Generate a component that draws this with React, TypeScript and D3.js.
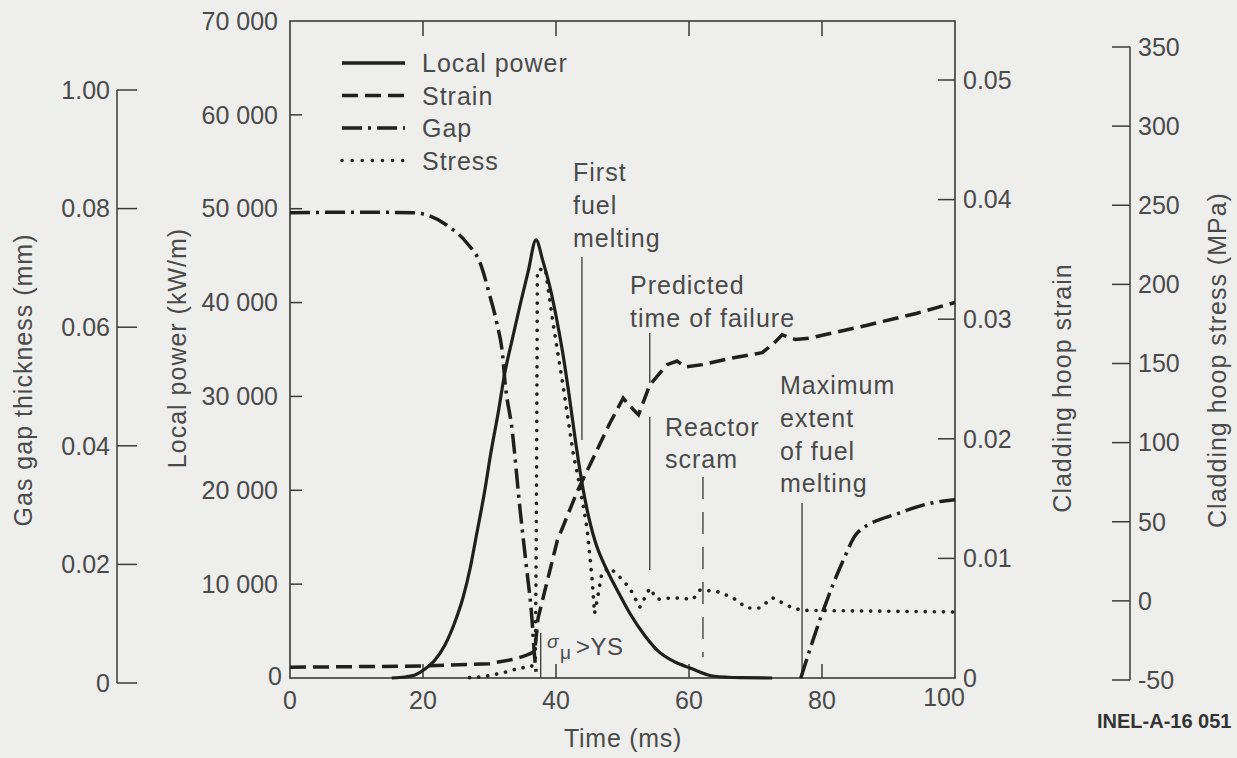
import React from "react";
import * as d3 from "d3";

// ---------- data ----------
const timeTicks = [0, 20, 40, 60, 80, 100];
const powerTicks = [0, 10000, 20000, 30000, 40000, 50000, 60000, 70000];
const powerTickLabels = ["0", "10 000", "20 000", "30 000", "40 000", "50 000", "60 000", "70 000"];
const gapTicks = [0, 0.02, 0.04, 0.06, 0.08, 0.1];
const gapTickLabels = ["0", "0.02", "0.04", "0.06", "0.08", "1.00"];
const strainTicks = [0, 0.01, 0.02, 0.03, 0.04, 0.05];
const strainTickLabels = ["0", "0.01", "0.02", "0.03", "0.04", "0.05"];
const stressTicks = [-50, 0, 50, 100, 150, 200, 250, 300, 350];
const stressTickLabels = ["-50", "0", "50", "100", "150", "200", "250", "300", "350"];

const legendLabels = ["Local power", "Strain", "Gap", "Stress"];

// [time ms, local power kW/m]
const powerData: [number, number][] = [
  [15.3, 0], [17.3, 110], [18.8, 320], [20.3, 960], [21.8, 1920], [23.3, 3520], [24.8, 5970],
  [26.0, 8520], [27.1, 11720], [28.1, 15450], [29.2, 19600], [30.2, 23970], [31.3, 28240],
  [32.3, 32500], [33.4, 36010], [34.6, 39740], [35.8, 43260], [37.0, 46670],
  [38, 44500], [39, 41900], [40, 38600], [41, 34700], [42, 30000], [43, 24900], [44, 20400],
  [45, 16900], [46, 14300], [47, 12500], [48, 11000], [49.6, 8850], [51.1, 6900], [53.4, 4480],
  [55.2, 2980], [57.9, 1700], [60.15, 1070], [63.6, 210], [67.7, 30], [72.5, 0],
];

// [time ms, strain]
const strainData: [number, number][] = [
  [0, 0.0009], [20, 0.001], [30, 0.0012], [34, 0.0016], [35.5, 0.0019], [36.8, 0.0022],
  [37.3, 0.005], [40.2, 0.0115], [43.2, 0.0156], [46.2, 0.0191], [48, 0.0212], [50.1, 0.0234],
  [51, 0.0228], [52.4, 0.022], [54.1, 0.0245], [56.7, 0.0262], [58.2, 0.0265], [59.5, 0.026],
  [62, 0.0262], [66, 0.0267], [71, 0.0272], [72.8, 0.028], [74, 0.0287], [76, 0.0283],
  [78, 0.0284], [86.8, 0.0295], [94.3, 0.0305], [100, 0.0314],
];

// [time ms, gas gap mm] (null = gap closed)
const gapData: [number, number | null][] = [
  [0, 0.0793], [10, 0.0794], [18.5, 0.0793], [23.6, 0.0772], [26.6, 0.0742], [28.6, 0.0708],
  [30.1, 0.0651], [31.1, 0.0607], [32, 0.055], [32.3, 0.0511], [33.4, 0.0427], [34.6, 0.0292],
  [35.6, 0.0191], [36.4, 0.0106], [36.7, 0.0056], [37.1, 0.001], [50, null],
  [76.8, 0.0008], [80.2, 0.0123], [83.2, 0.0207], [85.3, 0.0253], [91.7, 0.0287],
  [96.7, 0.0304], [100, 0.0309],
];

// [time ms, cladding hoop stress MPa]
const stressData: [number, number][] = [
  [27, -48.5], [29, -48], [32, -45.5], [34.5, -42.5], [36.3, -41.5], [36.9, -38], [37.0, 20],
  [37.1, 100], [37.2, 209], [38.4, 210], [39.5, 177], [41.1, 135], [42.6, 93], [43.6, 72],
  [44.7, 45], [45.4, 15], [45.8, -8], [46.3, 3], [46.9, 18], [48.1, 21], [49.6, 15], [51.1, 8],
  [52.6, -4], [54.1, 8], [55.2, 1], [57.6, 2], [60.6, 1], [61.7, 7], [64.2, 6], [66.6, 2],
  [68.7, -4.5], [70.7, -4.5], [72.5, 2], [75.6, -4.5], [77.1, -6], [100, -7],
];

// event times (ms)
const firstMeltTime = 43.9;
const failureTime = 54.1;
const scramTime = 62.1;
const maxMeltTime = 77.0;
const yieldTime = 37.7;

export default function App() {
  const W = 1237;
  const H = 758;
  const x = d3.scaleLinear().domain([0, 100]).range([290, 955]);
  const yPower = d3.scaleLinear().domain([0, 70000]).range([678, 21]);
  const yGap = d3.scaleLinear().domain([0, 0.1]).range([683, 90]);
  const yStrain = d3.scaleLinear().domain([0, 0.05]).range([678, 80]);
  const yStress = d3.scaleLinear().domain([-50, 350]).range([680, 47]);

  const powerPath = d3.line<[number, number]>().x((d) => x(d[0])).y((d) => yPower(d[1])).curve(d3.curveMonotoneX)(powerData) || "";
  const strainPath = d3.line<[number, number]>().x((d) => x(d[0])).y((d) => yStrain(d[1]))(strainData) || "";
  const gapPath = d3
    .line<[number, number | null]>()
    .defined((d) => d[1] !== null)
    .x((d) => x(d[0]))
    .y((d) => yGap(d[1] as number))
    .curve(d3.curveMonotoneX)(gapData) || "";
  const stressPath = d3.line<[number, number]>().x((d) => x(d[0])).y((d) => yStress(d[1]))(stressData) || "";

  const ink = "#1f1f1f";
  const textCol = "#4a4a4a";
  const axisCol = "#3a3a3a";
  const font = "'Liberation Sans', Arial, Helvetica, sans-serif";
  const fs = 25;

  const strainDash = "16 7";
  const gapDash = "20 6 3 6";
  const stressDash = "0.1 9";

  const legendStyles = [
    { dash: undefined, cap: "butt" },
    { dash: strainDash, cap: "butt" },
    { dash: gapDash, cap: "butt" },
    { dash: "0.1 10", cap: "round" },
  ];

  const plotLeft = x(0);
  const plotRight = x(100);
  const plotTop = yPower(70000);
  const plotBottom = yPower(0);

  return (
    <svg width={W} height={H} style={{ position: "absolute", left: 0, top: 0 }} fontFamily={font}>
      <rect x={0} y={0} width={W} height={H} fill="#eeeeec" />

      {/* plot frame */}
      <rect x={plotLeft} y={plotTop} width={plotRight - plotLeft} height={plotBottom - plotTop} fill="none" stroke={axisCol} strokeWidth={1.6} />

      {/* time ticks (bottom & top, inward) */}
      {timeTicks.slice(1, -1).map((t) => (
        <g key={"tt" + t}>
          <line x1={x(t)} x2={x(t)} y1={plotBottom} y2={plotBottom - 14} stroke={axisCol} strokeWidth={1.5} />
          <line x1={x(t)} x2={x(t)} y1={plotTop} y2={plotTop + 15} stroke={axisCol} strokeWidth={1.5} />
        </g>
      ))}
      {timeTicks.map((t) => (
        <text key={"tl" + t} x={t === 100 ? x(t) - 11 : x(t)} y={t === 100 ? 697 : 700} dy="0.35em" textAnchor="middle" fontSize={fs} fill={textCol}>
          {t}
        </text>
      ))}
      <text x={623} y={738} dy="0.35em" textAnchor="middle" fontSize={fs} letterSpacing={0.7} fill={textCol}>
        Time (ms)
      </text>

      {/* local power axis */}
      {powerTicks.map((v, i) => (
        <g key={"pt" + v}>
          {v > 0 && v < 70000 && <line x1={plotLeft} x2={plotLeft + 12} y1={yPower(v)} y2={yPower(v)} stroke={axisCol} strokeWidth={1.5} />}
          <text x={v === 0 ? 282 : 278} y={yPower(v) - (v === 0 ? 2 : 0)} dy="0.35em" textAnchor="end" fontSize={fs} fill={textCol}>
            {powerTickLabels[i]}
          </text>
        </g>
      ))}
      <text transform={`translate(186,348) rotate(-90)`} textAnchor="middle" fontSize={fs} letterSpacing={1} fill={textCol}>
        Local power (kW/m)
      </text>

      {/* gas gap axis */}
      <line x1={117} x2={117} y1={yGap(0.1)} y2={yGap(0)} stroke={axisCol} strokeWidth={1.5} />
      {gapTicks.map((v, i) => (
        <g key={"gt" + v}>
          <line x1={117} x2={137} y1={yGap(v)} y2={yGap(v)} stroke={axisCol} strokeWidth={1.5} />
          <text x={110} y={yGap(v)} dy="0.35em" textAnchor="end" fontSize={fs} fill={textCol}>
            {gapTickLabels[i]}
          </text>
        </g>
      ))}
      <text transform={`translate(32,380) rotate(-90)`} textAnchor="middle" fontSize={fs} letterSpacing={1} fill={textCol}>
        Gas gap thickness (mm)
      </text>

      {/* strain axis (right frame) */}
      {strainTicks.map((v, i) => (
        <g key={"st" + v}>
          {v > 0 && <line x1={plotRight - 17} x2={plotRight} y1={yStrain(v)} y2={yStrain(v)} stroke={axisCol} strokeWidth={1.5} />}
          <text x={963} y={yStrain(v)} dy="0.35em" textAnchor="start" fontSize={fs} fill={textCol}>
            {strainTickLabels[i]}
          </text>
        </g>
      ))}
      <text transform={`translate(1071,388) rotate(-90)`} textAnchor="middle" fontSize={fs} letterSpacing={1} fill={textCol}>
        Cladding hoop strain
      </text>

      {/* stress axis */}
      <line x1={1130} x2={1130} y1={yStress(350)} y2={yStress(-50)} stroke={axisCol} strokeWidth={1.5} />
      {stressTicks.map((v, i) => (
        <g key={"sst" + v}>
          <line x1={1112} x2={1130} y1={yStress(v)} y2={yStress(v)} stroke={axisCol} strokeWidth={1.5} />
          <text x={1138} y={yStress(v)} dy="0.35em" textAnchor="start" fontSize={fs} fill={textCol}>
            {stressTickLabels[i]}
          </text>
        </g>
      ))}
      <text transform={`translate(1226,360) rotate(-90)`} textAnchor="middle" fontSize={fs} letterSpacing={1} fill={textCol}>
        Cladding hoop stress (MPa)
      </text>

      {/* event markers */}
      <line x1={x(firstMeltTime)} x2={x(firstMeltTime)} y1={257} y2={440} stroke={axisCol} strokeWidth={1.3} />
      <line x1={x(failureTime)} x2={x(failureTime)} y1={333} y2={383} stroke={axisCol} strokeWidth={1.3} />
      <line x1={x(failureTime)} x2={x(failureTime)} y1={417} y2={570} stroke={axisCol} strokeWidth={1.3} />
      <line x1={x(scramTime)} x2={x(scramTime)} y1={477} y2={657} stroke={axisCol} strokeWidth={1.3} strokeDasharray="22 13" />
      <line x1={x(maxMeltTime)} x2={x(maxMeltTime)} y1={503} y2={plotBottom} stroke={axisCol} strokeWidth={1.3} />
      <line x1={x(yieldTime)} x2={x(yieldTime)} y1={633} y2={plotBottom} stroke={axisCol} strokeWidth={1.3} />

      {/* annotation texts */}
      <g fontSize={fs} letterSpacing={1} fill={textCol}>
        <text x={573} y={181}>First</text>
        <text x={573} y={214}>fuel</text>
        <text x={573} y={247}>melting</text>
        <text x={630} y={294}>Predicted</text>
        <text x={630} y={327}>time of failure</text>
        <text x={665} y={436}>Reactor</text>
        <text x={665} y={468}>scram</text>
        <text x={780} y={394}>Maximum</text>
        <text x={780} y={427}>extent</text>
        <text x={780} y={460}>of fuel</text>
        <text x={780} y={492}>melting</text>
      </g>
      <text x={547} y={648} fontSize={19} fontStyle="italic" fill={textCol}>σ</text>
      <text x={560} y={659} fontSize={19} fill={textCol}>μ</text>
      <text x={576} y={655} fontSize={24} letterSpacing={0.5} fill={textCol}>&gt;YS</text>

      {/* data curves */}
      <path d={gapPath} fill="none" stroke={ink} strokeWidth={3.5} strokeDasharray={gapDash} />
      <path d={strainPath} fill="none" stroke={ink} strokeWidth={3.5} strokeDasharray={strainDash} />
      <path d={stressPath} fill="none" stroke={ink} strokeWidth={3.6} strokeDasharray={stressDash} strokeLinecap="round" />
      <path d={powerPath} fill="none" stroke={ink} strokeWidth={3.2} />

      {/* legend */}
      {legendLabels.map((lab, i) => {
        const cy = 63 + i * 32.5;
        const st = legendStyles[i];
        return (
          <g key={lab}>
            <line x1={342} x2={405} y1={cy} y2={cy} stroke={ink} strokeWidth={3.5} strokeDasharray={st.dash} strokeLinecap={st.cap as any} />
            <text x={422} y={cy + 9} fontSize={fs} letterSpacing={1} fill={textCol}>
              {lab}
            </text>
          </g>
        );
      })}

      {/* figure id */}
      <text x={1097} y={728} fontSize={20} fontWeight="bold" fill="#333">
        INEL-A-16 051
      </text>
    </svg>
  );
}
